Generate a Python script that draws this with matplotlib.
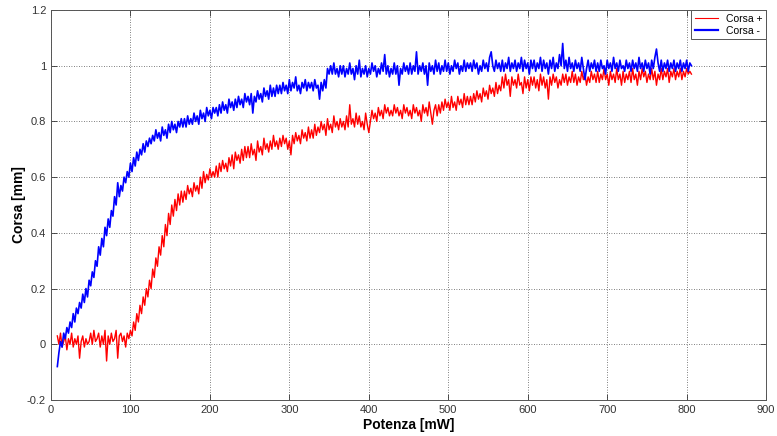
import numpy as np
import matplotlib
matplotlib.use("Agg")
import matplotlib.pyplot as plt
from matplotlib.ticker import FormatStrFormatter

plt.rcParams['font.family'] = ['Liberation Sans', 'DejaVu Sans']

# Power sweep (mW), sampled every 2 mW from 8 to 806
potenza = np.arange(8, 807, 2)

# Displacement during the "Corsa +" run [mm], 20 samples per 40 mW row
corsa_piu = [
    0.03, 0.00, 0.04, -0.01, 0.01, 0.03, -0.02, 0.02, 0.00, 0.04, -0.01, 0.02, 0.00, 0.03, -0.05, 0.01, 0.03, -0.01, 0.02, 0.00,
    0.01, 0.04, 0.00, 0.05, 0.01, 0.02, 0.04, -0.01, 0.03, 0.00, 0.05, -0.06, 0.03, 0.00, 0.04, 0.01, 0.02, 0.05, -0.05, 0.03,
    0.04, 0.01, 0.03, -0.01, 0.04, 0.02, 0.05, 0.03, 0.08, 0.05, 0.11, 0.08, 0.14, 0.11, 0.17, 0.14, 0.20, 0.17, 0.23, 0.20,
    0.27, 0.24, 0.31, 0.28, 0.35, 0.32, 0.39, 0.35, 0.43, 0.39, 0.47, 0.43, 0.50, 0.46, 0.52, 0.48, 0.54, 0.50, 0.55, 0.51,
    0.55, 0.52, 0.57, 0.54, 0.56, 0.53, 0.58, 0.55, 0.57, 0.54, 0.60, 0.56, 0.62, 0.58, 0.61, 0.59, 0.63, 0.60, 0.62, 0.60,
    0.64, 0.60, 0.65, 0.62, 0.66, 0.63, 0.65, 0.62, 0.67, 0.64, 0.68, 0.63, 0.69, 0.66, 0.68, 0.65, 0.70, 0.66, 0.71, 0.67,
    0.71, 0.67, 0.72, 0.68, 0.70, 0.66, 0.73, 0.69, 0.71, 0.68, 0.74, 0.70, 0.72, 0.69, 0.73, 0.70, 0.75, 0.71, 0.73, 0.70,
    0.74, 0.71, 0.75, 0.72, 0.74, 0.70, 0.73, 0.68, 0.75, 0.72, 0.76, 0.73, 0.75, 0.72, 0.77, 0.74, 0.76, 0.73, 0.78, 0.74,
    0.77, 0.74, 0.79, 0.75, 0.78, 0.76, 0.80, 0.77, 0.79, 0.75, 0.81, 0.77, 0.79, 0.76, 0.82, 0.78, 0.80, 0.77, 0.81, 0.78,
    0.80, 0.77, 0.82, 0.78, 0.86, 0.79, 0.81, 0.78, 0.83, 0.79, 0.82, 0.78, 0.80, 0.77, 0.83, 0.79, 0.76, 0.80, 0.84, 0.81,
    0.83, 0.80, 0.85, 0.82, 0.84, 0.81, 0.86, 0.83, 0.85, 0.82, 0.84, 0.82, 0.86, 0.83, 0.85, 0.82, 0.84, 0.81, 0.86, 0.83,
    0.85, 0.82, 0.84, 0.81, 0.86, 0.83, 0.85, 0.82, 0.84, 0.80, 0.86, 0.83, 0.85, 0.82, 0.87, 0.83, 0.79, 0.84, 0.86, 0.82,
    0.86, 0.83, 0.87, 0.84, 0.88, 0.85, 0.87, 0.84, 0.89, 0.85, 0.87, 0.84, 0.89, 0.86, 0.88, 0.85, 0.90, 0.86, 0.89, 0.86,
    0.89, 0.86, 0.90, 0.87, 0.91, 0.88, 0.90, 0.87, 0.92, 0.89, 0.91, 0.88, 0.93, 0.90, 0.92, 0.89, 0.94, 0.90, 0.93, 0.91,
    0.96, 0.92, 0.97, 0.93, 0.95, 0.89, 0.96, 0.93, 0.95, 0.92, 0.97, 0.93, 0.94, 0.90, 0.96, 0.92, 0.95, 0.91, 0.96, 0.93,
    0.96, 0.92, 0.95, 0.91, 0.97, 0.93, 0.96, 0.92, 0.95, 0.88, 0.96, 0.93, 0.97, 0.94, 0.96, 0.92, 0.95, 0.93, 0.97, 0.94,
    0.97, 0.93, 0.96, 0.94, 0.98, 0.94, 0.97, 0.93, 0.96, 0.94, 0.98, 0.95, 0.97, 0.93, 0.96, 0.94, 0.98, 0.95, 0.97, 0.94,
    0.98, 0.94, 0.97, 0.95, 0.99, 0.95, 0.97, 0.93, 0.98, 0.95, 0.97, 0.94, 0.99, 0.95, 0.97, 0.93, 0.98, 0.94, 0.97, 0.95,
    0.98, 0.94, 0.99, 0.95, 0.97, 0.93, 0.98, 0.95, 0.99, 0.96, 0.98, 0.94, 0.97, 0.95, 0.99, 0.95, 0.98, 0.93, 0.97, 0.95,
    0.99, 0.95, 0.98, 0.96, 0.99, 0.94, 0.98, 0.96, 0.99, 0.95, 0.98, 0.96, 0.99, 0.95, 0.98, 0.96, 0.99, 0.97, 0.98, 0.97,
]

# Displacement during the "Corsa -" run [mm], 20 samples per 40 mW row
corsa_meno = [
    -0.08, -0.03, 0.01, -0.01, 0.04, 0.02, 0.06, 0.04, 0.08, 0.06, 0.11, 0.08, 0.13, 0.11, 0.15, 0.13, 0.18, 0.15, 0.20, 0.17,
    0.23, 0.21, 0.26, 0.24, 0.30, 0.28, 0.35, 0.32, 0.38, 0.35, 0.42, 0.39, 0.45, 0.42, 0.48, 0.46, 0.53, 0.50, 0.58, 0.53,
    0.57, 0.55, 0.60, 0.58, 0.62, 0.60, 0.65, 0.62, 0.67, 0.64, 0.69, 0.66, 0.70, 0.68, 0.72, 0.69, 0.73, 0.71, 0.74, 0.72,
    0.75, 0.73, 0.77, 0.74, 0.76, 0.73, 0.78, 0.75, 0.77, 0.74, 0.79, 0.76, 0.80, 0.77, 0.79, 0.76, 0.80, 0.78, 0.81, 0.78,
    0.81, 0.78, 0.82, 0.79, 0.81, 0.79, 0.83, 0.80, 0.82, 0.79, 0.84, 0.81, 0.83, 0.80, 0.85, 0.82, 0.84, 0.81, 0.85, 0.83,
    0.85, 0.82, 0.86, 0.83, 0.87, 0.84, 0.86, 0.83, 0.88, 0.85, 0.87, 0.84, 0.88, 0.85, 0.89, 0.86, 0.88, 0.85, 0.90, 0.87,
    0.89, 0.86, 0.90, 0.83, 0.89, 0.87, 0.91, 0.88, 0.90, 0.87, 0.92, 0.89, 0.91, 0.88, 0.93, 0.89, 0.92, 0.89, 0.93, 0.90,
    0.93, 0.90, 0.94, 0.91, 0.93, 0.90, 0.95, 0.91, 0.94, 0.92, 0.96, 0.91, 0.93, 0.90, 0.94, 0.92, 0.95, 0.91, 0.94, 0.92,
    0.94, 0.91, 0.95, 0.92, 0.93, 0.88, 0.94, 0.91, 0.95, 0.92, 0.99, 0.97, 1.00, 0.97, 1.01, 0.97, 0.99, 0.96, 1.00, 0.97,
    1.00, 0.96, 0.99, 0.97, 1.01, 0.97, 0.99, 0.95, 1.00, 0.97, 1.02, 0.96, 0.99, 0.97, 1.00, 0.96, 0.99, 0.97, 1.01, 0.98,
    1.00, 0.96, 0.99, 0.97, 1.01, 0.98, 1.04, 0.97, 1.00, 0.96, 0.99, 0.97, 1.01, 0.97, 1.00, 0.93, 0.99, 0.97, 1.01, 0.98,
    1.00, 0.97, 1.01, 0.97, 1.00, 0.98, 1.05, 0.97, 1.00, 0.98, 1.01, 0.97, 1.00, 0.93, 1.01, 0.98, 1.00, 0.97, 1.02, 0.98,
    1.01, 0.97, 1.00, 0.98, 1.02, 0.98, 1.01, 0.97, 1.00, 0.98, 1.02, 0.99, 1.01, 0.97, 1.00, 0.98, 1.02, 0.98, 1.01, 0.99,
    1.01, 0.98, 1.02, 0.99, 1.01, 0.97, 1.00, 0.98, 1.02, 0.99, 1.01, 0.98, 1.03, 1.05, 1.00, 0.98, 1.02, 0.99, 1.01, 0.98,
    1.02, 0.98, 1.01, 0.99, 1.03, 0.98, 1.01, 0.99, 1.02, 0.98, 1.01, 0.99, 1.03, 0.98, 1.02, 0.99, 1.01, 0.97, 1.02, 0.99,
    1.02, 0.98, 1.01, 0.99, 1.03, 0.98, 1.02, 0.99, 1.01, 0.97, 1.02, 0.99, 1.03, 0.98, 1.01, 0.99, 1.04, 1.00, 1.08, 0.99,
    1.02, 0.98, 1.03, 0.99, 1.01, 0.98, 1.02, 0.99, 1.01, 0.98, 1.03, 0.99, 0.95, 0.99, 1.02, 0.98, 1.01, 0.99, 1.02, 0.98,
    1.01, 0.98, 1.02, 0.99, 1.00, 0.97, 1.02, 0.99, 1.01, 0.98, 1.03, 0.99, 1.01, 0.98, 1.02, 0.99, 1.00, 0.98, 1.02, 0.99,
    1.01, 0.98, 1.02, 0.99, 1.01, 0.98, 1.03, 0.99, 1.01, 0.98, 1.02, 0.99, 1.01, 0.97, 1.02, 0.99, 1.03, 1.06, 1.01, 0.98,
    1.02, 0.98, 1.01, 0.99, 1.02, 0.98, 1.01, 0.99, 1.02, 0.98, 1.01, 0.99, 1.02, 0.98, 1.01, 0.99, 1.02, 0.98, 1.01, 1.00,
]

x_ticks = [0, 100, 200, 300, 400, 500, 600, 700, 800, 900]
y_ticks = [-0.2, 0, 0.2, 0.4, 0.6, 0.8, 1.0, 1.2]

fig = plt.figure(figsize=(7.77, 4.36), dpi=100)
ax = fig.add_axes([0.0656, 0.0826, 0.9204, 0.8944])

ax.plot(potenza, corsa_piu, color='#ff0000', lw=1.0, label='Corsa +')
ax.plot(potenza, corsa_meno, color='#0000ff', lw=1.2, label='Corsa -')

ax.set_xlim(0, 900)
ax.set_ylim(-0.2, 1.2)
ax.set_xticks(x_ticks)
ax.set_yticks(y_ticks)
ax.yaxis.set_major_formatter(FormatStrFormatter('%g'))
ax.tick_params(direction='in', length=4, width=0.6, labelsize=8,
               colors='#333333', top=True, right=True)
ax.grid(True, linestyle=(0, (1, 2)), color='#555555', linewidth=0.6)

for s in ax.spines.values():
    s.set_color('#555555')
    s.set_linewidth(0.7)

ax.set_xlabel('Potenza [mW]', fontsize=10, fontweight='bold', labelpad=2)
ax.set_ylabel('Corsa [mm]', fontsize=10, fontweight='bold', labelpad=1)

leg = ax.legend(loc='upper right', fontsize=7.5, borderaxespad=0,
                fancybox=False, framealpha=1, edgecolor='#555555',
                handlelength=2.2, borderpad=0.35, labelspacing=0.2)
leg.get_frame().set_linewidth(0.7)
leg.get_lines()[0].set_linewidth(0.8)
leg.get_lines()[1].set_linewidth(1.6)

fig.savefig('out.png', dpi=100)
